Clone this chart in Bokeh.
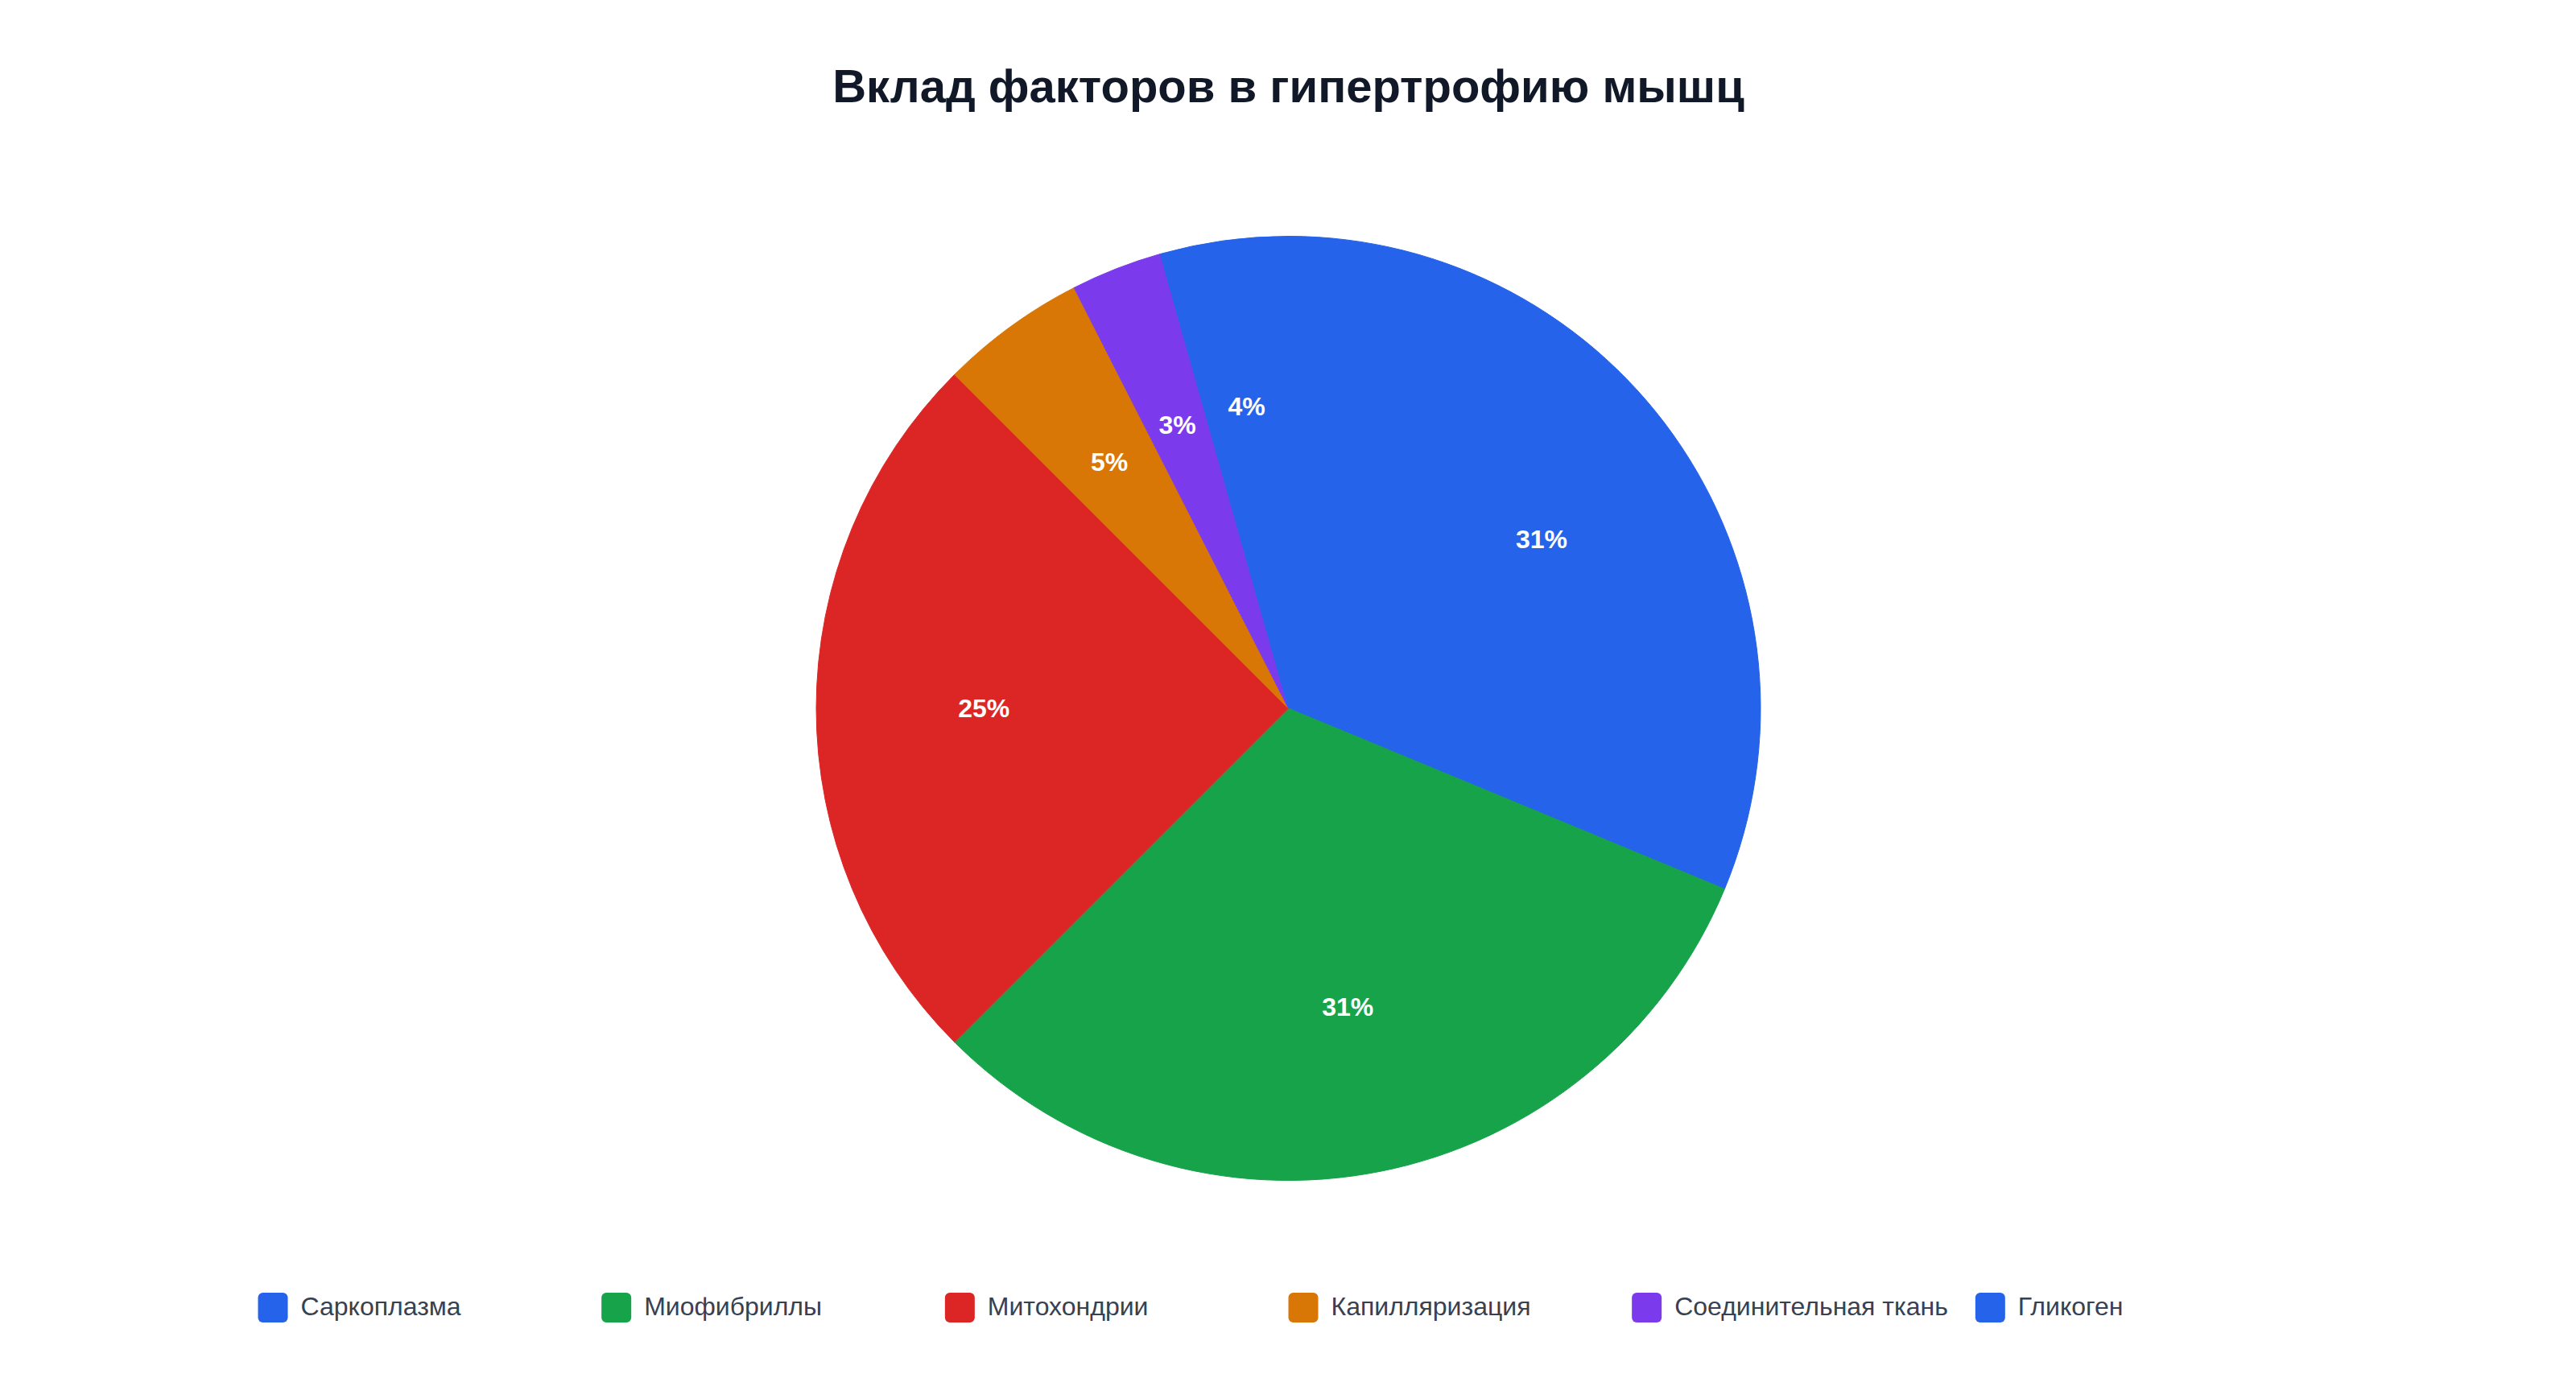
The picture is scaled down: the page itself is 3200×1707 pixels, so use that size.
import numpy as np
from bokeh.plotting import figure
from bokeh.models import Range1d, ColumnDataSource
from bokeh.core.properties import value
from bokeh.embed import file_html
from bokeh.resources import INLINE

# ---- data ----
categories = ["Саркоплазма", "Миофибриллы", "Митохондрии",
              "Капилляризация", "Соединительная ткань", "Гликоген"]
values = [25, 25, 20, 4, 2.5, 3.5]
colors = ["#2563eb", "#16a34a", "#dc2626", "#d97706", "#7c3aed", "#2563eb"]
title_text = "Вклад факторов в гипертрофию мышц"

# ---- layout ----
W, H = 3184, 1691
p = figure(width=W, height=H, output_backend="svg", toolbar_location=None,
           x_range=Range1d(0, W), y_range=Range1d(0, H), min_border=0)
p.axis.visible = False
p.grid.visible = False
p.outline_line_color = None
p.background_fill_color = "white"
p.border_fill_color = "white"


def sx(x):
    return x


def sy(y):
    return H - y


cx, cy, R = sx(1600), sy(879.5), 586.5
vals = np.array(values, dtype=float)
frac = vals / vals.sum()
cum = np.concatenate([[0.0], np.cumsum(frac)])
th1 = cum[:-1] * 2 * np.pi
th2 = cum[1:] * 2 * np.pi
mid = (th1 + th2) / 2
labels = [f"{round(f * 100)}%" for f in frac]

src = ColumnDataSource(dict(
    start=np.pi / 2 - th2, end=np.pi / 2 - th1, color=colors,
    lx=cx + 0.645 * R * np.sin(mid), ly=cy + 0.645 * R * np.cos(mid),
    label=labels))

p.wedge(x=cx, y=cy, radius=R, start_angle="start", end_angle="end",
        fill_color="color", line_color="color", line_width=1, source=src)
p.text(x="lx", y="ly", text="label", source=src, text_color="white",
       text_font=value("Liberation Sans"), text_font_style="bold",
       text_font_size=value("32px"), text_align="center",
       text_baseline="middle")

# title
p.text(x=[sx(1600)], y=[sy(106)], text=[title_text], text_color="#111827",
       text_font=value("Liberation Sans"), text_font_style="bold",
       text_font_size=value("58px"), text_align="center",
       text_baseline="middle")

# legend
idx = np.arange(len(categories))
step = 2560 / 6
lsrc = ColumnDataSource(dict(
    bx=sx(338.5) + step * idx, tx=sx(373) + step * idx,
    by=[sy(1624)] * len(categories), ty=[sy(1622)] * len(categories),
    color=colors, name=categories))
p.rect(x="bx", y="by", width=37, height=37, fill_color="color",
       line_color=None, border_radius=6, source=lsrc)
p.text(x="tx", y="ty", text="name", source=lsrc, text_color="#374151",
       text_font=value("Liberation Sans"), text_font_size=value("32px"),
       text_align="left", text_baseline="middle")

open("out.html", "w").write(file_html(p, INLINE))
